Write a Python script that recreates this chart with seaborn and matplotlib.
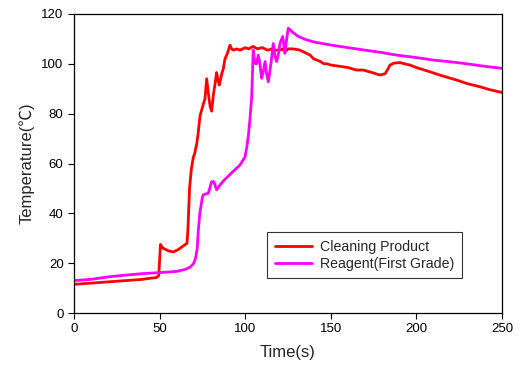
import matplotlib
matplotlib.use("Agg")
import matplotlib.pyplot as plt
import seaborn as sns
import pandas as pd

red_t = [0, 10, 20, 30, 40, 45, 48, 49.5, 50.5, 52, 55, 58, 61, 63, 65, 66, 66.5, 67.5, 68.5, 69.7,
         70.5, 71.7, 72.5, 73.6, 75, 76.5, 77.5, 78.5, 79.5, 80.4, 81.5, 82.4, 83.3, 84.2, 84.9, 86.3,
         87.2, 88.2, 89.5, 91.1, 92.1, 93.1, 95, 97, 100, 102, 104.7, 107, 110, 113, 116, 118, 120.3,
         122, 123.2, 125, 128, 132, 135, 137.9, 140, 143.7, 146, 148, 150, 155.4, 160, 165, 169, 174,
         178.7, 181.7, 183, 184.6, 187, 190.4, 193, 196.3, 200, 207.9, 215, 223.5, 230, 237.1, 243, 250]
red_T = [11.5, 12, 12.5, 13, 13.5, 14, 14.2, 15, 27.5, 26, 25, 24.5, 25.5, 26.5, 27.5, 28, 33, 50, 57.5, 62.5,
         64, 68, 72, 79, 82.5, 86, 94, 88, 83, 81, 88, 92, 96.5, 93, 91.5, 96,
         98, 102, 104, 107.5, 106, 105.5, 106, 105.5, 106.5, 106, 107, 106, 106.5, 105.5, 106, 105.5, 105.5,
         106, 104.8, 106, 106, 105.5, 104.5, 103.5, 102, 101, 100, 100, 99.5, 99, 98.5, 97.5, 97.5, 96.5,
         95.5, 96, 97.5, 99.5, 100.3, 100.5, 100, 99.5, 98.5, 96.8, 95.2, 93.5, 92, 90.8, 89.6, 88.5]

mag_t = [0, 10, 20, 30, 40, 50, 60, 65, 68, 70, 71, 72, 72.6, 73.5, 75, 75.5, 77, 78.4, 79.5, 80.4, 81.7,
         83.3, 85.3, 88, 91, 94, 97, 99.9, 100.8, 101.8, 102.8, 103.8, 104.7, 105.7, 106.6, 107.6, 108.6,
         109.6, 110.6, 111.6, 112.5, 113.5, 115, 116.4, 117.4, 118.4, 119.4, 120.3, 121.9, 123.2, 124.2,
         125.2, 128, 131, 135.9, 140, 149.5, 160, 170, 180, 188.4, 200, 210, 220, 227.4, 240, 249.8]
mag_T = [13, 13.5, 14.5, 15.2, 15.8, 16.2, 16.7, 17.5, 18.5, 20, 22, 26, 33, 40, 46.5, 47.4, 47.8, 48, 50.5, 52.7, 52.7,
         49.4, 51.4, 53.5, 55.5, 57.5, 59.4, 62.7, 66, 70.8, 78, 86.8, 105.5, 100.2, 100, 103.5, 100,
         94.2, 97, 100.9, 96, 92.8, 100, 108.2, 103, 100.9, 104, 108.2, 111, 104.2, 110,
         114.3, 112.5, 111, 109.6, 108.8, 107.6, 106.5, 105.5, 104.5, 103.5, 102.5, 101.5, 100.8, 100.2, 99, 98.2]

series_names = ["Cleaning Product", "Reagent(First Grade)"]
colors = ["#FF0000", "#FF00FF"]
x_ticks = [0, 50, 100, 150, 200, 250]
y_ticks = [0, 20, 40, 60, 80, 100, 120]

df = pd.concat([
    pd.DataFrame({"t": red_t, "T": red_T, "series": series_names[0]}),
    pd.DataFrame({"t": mag_t, "T": mag_T, "series": series_names[1]}),
], ignore_index=True)

sns.set_style("ticks")
plt.rcParams["font.family"] = ["Liberation Sans", "Noto Sans CJK SC", "DejaVu Sans"]

fig = plt.figure(figsize=(5.22, 3.73), dpi=100)
ax = fig.add_axes([74/522, 1 - 313/373, 428/522, 299/373])

sns.lineplot(data=df, x="t", y="T", hue="series", palette=dict(zip(series_names, colors)),
             estimator=None, sort=False, linewidth=2.0, ax=ax)

ax.set_xlim(0, 250)
ax.set_ylim(0, 120)
ax.set_xticks(x_ticks)
ax.set_yticks(y_ticks)
ax.tick_params(direction="out", length=4, width=0.8, labelsize=9.5, colors="black")
for s in ax.spines.values():
    s.set_visible(True)
    s.set_color("black")
    s.set_linewidth(0.9)
ax.set_xlabel("Time(s)", fontsize=12, labelpad=7)
ax.set_ylabel("Temperature(℃)", fontsize=12, labelpad=5)

leg = ax.legend(loc="upper left", bbox_to_anchor=((267-74)/428, (313-232)/299),
                borderaxespad=0, frameon=True, fancybox=False, fontsize=10.2,
                handlelength=2.6, handletextpad=0.6, borderpad=0.55, labelspacing=0.2)
leg.get_frame().set_edgecolor("black")
leg.get_frame().set_linewidth(0.8)
leg.set_title(None)

fig.savefig("out.png", dpi=100)
